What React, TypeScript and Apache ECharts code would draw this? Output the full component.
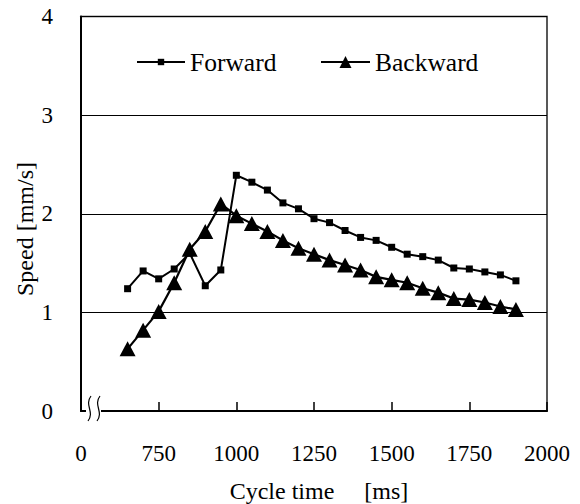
import React, { useEffect, useRef } from "react";
import * as echarts from "echarts";

const cycleTimes = [650, 700, 750, 800, 850, 900, 950, 1000, 1050, 1100, 1150, 1200, 1250, 1300, 1350, 1400, 1450, 1500, 1550, 1600, 1650, 1700, 1750, 1800, 1850, 1900];
const forward = [1.24, 1.42, 1.34, 1.44, 1.6, 1.27, 1.43, 2.39, 2.32, 2.24, 2.11, 2.05, 1.95, 1.91, 1.83, 1.76, 1.73, 1.66, 1.59, 1.565, 1.53, 1.45, 1.44, 1.41, 1.38, 1.32];
const backward = [0.63, 0.82, 1.01, 1.3, 1.64, 1.82, 2.1, 1.98, 1.9, 1.82, 1.73, 1.65, 1.59, 1.53, 1.48, 1.43, 1.36, 1.33, 1.3, 1.245, 1.2, 1.14, 1.13, 1.1, 1.06, 1.03];
const seriesNames = ["Forward", "Backward"];
const xTitle = "Cycle time     [ms]";
const yTitle = "Speed [mm/s]";

const FONT = "Liberation Serif";

export default function App() {
  const ref = useRef<HTMLDivElement>(null);
  useEffect(() => {
    if (!ref.current) return;
    const chart = echarts.init(ref.current, undefined, { renderer: "svg" });
    const tick = { fontFamily: FONT, fontSize: 23, color: "#000000" };
    const leg = { fontFamily: FONT, fontSize: 25.5, color: "#000000" };
    chart.setOption({
      animation: false,
      backgroundColor: "#ffffff",
      textStyle: { fontFamily: FONT, color: "#000000" },
      grid: {
        left: 81, right: 33, top: 16.5, bottom: 93,
        show: true, borderColor: "#222222", borderWidth: 1.5, containLabel: false,
      },
      legend: [
        {
          left: 131, top: 44, itemWidth: 48, itemHeight: 8, itemGap: 0,
          data: [seriesNames[0]], textStyle: leg,
        },
        {
          left: 315, top: 44, itemWidth: 49, itemHeight: 15, itemGap: 0,
          data: [seriesNames[1]], textStyle: leg,
        },
      ],
      xAxis: {
        type: "value", min: 500, max: 2000, interval: 250,
        axisLine: { show: true, lineStyle: { color: "#000000", width: 2 } },
        axisTick: { show: true, inside: true, length: 9, lineStyle: { color: "#000000", width: 1.5 } },
        axisLabel: {
          ...tick, margin: 31,
          formatter: (v: number) => (v === 500 ? "0" : String(v)),
        },
        splitLine: { show: false },
      },
      yAxis: {
        type: "value", min: 0, max: 4, interval: 1,
        axisLine: { show: true, lineStyle: { color: "#000000", width: 2 } },
        axisTick: { show: false },
        axisLabel: { ...tick, margin: 28 },
        splitLine: { show: true, lineStyle: { color: "#000000", width: 1 } },
      },
      series: [
        {
          name: seriesNames[0], type: "line",
          data: cycleTimes.map((x, i) => [x, forward[i]]),
          symbol: "rect", symbolSize: 7,
          lineStyle: { color: "#000000", width: 2 },
          itemStyle: { color: "#000000" },
        },
        {
          name: seriesNames[1], type: "line",
          data: cycleTimes.map((x, i) => [x, backward[i]]),
          symbol: "triangle", symbolSize: [16, 15],
          lineStyle: { color: "#000000", width: 2.2 },
          itemStyle: { color: "#000000" },
        },
      ],
      graphic: [
        { type: "rect", shape: { x: 86, y: 404, width: 15, height: 14 }, style: { fill: "#ffffff" }, z: 100 },
        {
          type: "bezierCurve",
          shape: { x1: 91, y1: 396, x2: 88, y2: 421, cpx1: 84, cpy1: 405, cpx2: 95, cpy2: 412 },
          style: { stroke: "#000000", lineWidth: 1.2, fill: null }, z: 101,
        },
        {
          type: "bezierCurve",
          shape: { x1: 100, y1: 396, x2: 97, y2: 421, cpx1: 93, cpy1: 405, cpx2: 104, cpy2: 412 },
          style: { stroke: "#000000", lineWidth: 1.2, fill: null }, z: 101,
        },
        {
          type: "text", x: 319, y: 491,
          style: { text: xTitle, font: "24px Liberation Serif", fill: "#000000", align: "center", verticalAlign: "middle" },
        },
        {
          type: "text", x: 25, y: 229, rotation: Math.PI / 2,
          style: { text: yTitle, font: "24px Liberation Serif", fill: "#000000", align: "center", verticalAlign: "middle" },
        },
      ],
    });
    return () => chart.dispose();
  }, []);
  return <div ref={ref} style={{ position: "fixed", left: 0, top: 0, width: 580, height: 504 }} />;
}
